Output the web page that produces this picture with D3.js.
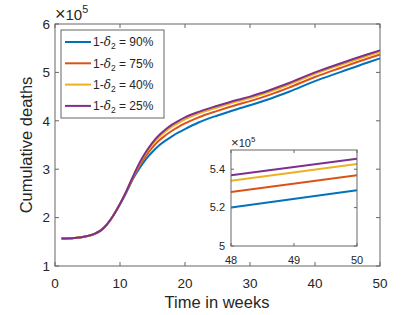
<!DOCTYPE html>
<html>
<head>
<meta charset="utf-8">
<script src="https://cdn.jsdelivr.net/npm/d3@7"></script>
<style>
  body { margin: 0; background: #fff; }
  text { font-family: "Liberation Sans", Arial, sans-serif; fill: #262626; }
</style>
</head>
<body>
<div id="chart"></div>
<script>
// data (deaths in units of 1e5)
const weeks = [1, 3, 5, 6, 7, 8, 9, 10, 11, 12, 13, 14, 15, 16, 17, 18, 19, 20, 22, 25, 28, 30, 33, 36, 40, 44, 48, 50];
const d90 = [1.57, 1.58, 1.62, 1.66, 1.73, 1.86, 2.05, 2.28, 2.53, 2.80, 3.02, 3.21, 3.36, 3.49, 3.59, 3.68, 3.76, 3.83, 3.96, 4.11, 4.24, 4.32, 4.45, 4.60, 4.82, 5.01, 5.20, 5.29];
const d75 = [1.57, 1.58, 1.62, 1.66, 1.73, 1.86, 2.05, 2.28, 2.54, 2.824, 3.073, 3.282, 3.451, 3.591, 3.70, 3.795, 3.875, 3.945, 4.066, 4.206, 4.331, 4.406, 4.536, 4.686, 4.906, 5.096, 5.281, 5.369];
const d40 = [1.57, 1.58, 1.62, 1.66, 1.73, 1.86, 2.05, 2.28, 2.547, 2.842, 3.111, 3.334, 3.518, 3.664, 3.781, 3.879, 3.959, 4.029, 4.143, 4.276, 4.398, 4.469, 4.599, 4.749, 4.969, 5.159, 5.34, 5.427];
const d25 = [1.57, 1.58, 1.62, 1.66, 1.73, 1.86, 2.05, 2.28, 2.55, 2.85, 3.13, 3.36, 3.55, 3.70, 3.82, 3.92, 4.00, 4.07, 4.18, 4.31, 4.43, 4.50, 4.63, 4.78, 5.00, 5.19, 5.369, 5.455];
const labels = ["90%", "75%", "40%", "25%"];
const colors = ["#0072BD", "#D95319", "#EDB120", "#7E2F8E"];
const xTicks = [0, 10, 20, 30, 40, 50];
const yTicks = [1, 2, 3, 4, 5, 6];
const insetXTicks = [48, 49, 50];
const insetYTicks = [5, 5.2, 5.4];

const series = [d90, d75, d40, d25].map((vals, i) => ({
    label: labels[i], color: colors[i],
    points: weeks.map((w, j) => [w, vals[j]])
}));

const width = 420, height = 315;
const svg = d3.select("#chart").append("svg")
    .attr("width", width).attr("height", height);

// draws a boxed matlab-style axes with inner ticks
function boxAxes(g, x, y, xt, yt, tickLen, fontSize, xPad, yPad) {
    const [x0, x1] = x.range();
    const [y0, y1] = y.range();
    g.append("rect")
        .attr("x", x0).attr("y", y1)
        .attr("width", x1 - x0).attr("height", y0 - y1)
        .attr("fill", "none").attr("stroke", "#666").attr("stroke-width", 1);
    xt.forEach(t => {
        g.append("line").attr("x1", x(t)).attr("x2", x(t))
            .attr("y1", y0).attr("y2", y0 - tickLen).attr("stroke", "#666");
        g.append("line").attr("x1", x(t)).attr("x2", x(t))
            .attr("y1", y1).attr("y2", y1 + tickLen).attr("stroke", "#666");
        g.append("text").attr("x", x(t)).attr("y", y0 + xPad)
            .attr("text-anchor", "middle").style("font-size", fontSize + "px").text(t);
    });
    yt.forEach(t => {
        g.append("line").attr("x1", x0).attr("x2", x0 + tickLen)
            .attr("y1", y(t)).attr("y2", y(t)).attr("stroke", "#666");
        g.append("line").attr("x1", x1).attr("x2", x1 - tickLen)
            .attr("y1", y(t)).attr("y2", y(t)).attr("stroke", "#666");
        g.append("text").attr("x", x0 - yPad).attr("y", y(t))
            .attr("dy", "0.35em").attr("text-anchor", "end")
            .style("font-size", fontSize + "px").text(t);
    });
}

// "x10^5" multiplier label
function exponent(g, xPos, yPos, fs) {
    const t = g.append("text").attr("x", xPos).attr("y", yPos).style("font-size", fs + "px");
    t.append("tspan").style("font-size", (fs * 1.2) + "px").text("\u00d7");
    t.append("tspan").text("10");
    t.append("tspan").style("font-size", (fs * 0.72) + "px").attr("dy", -fs * 0.45).text("5");
}

// main axes
const x = d3.scaleLinear().domain([0, 50]).range([55, 380]);
const y = d3.scaleLinear().domain([1, 6]).range([266, 24]);

const main = svg.append("g");
boxAxes(main, x, y, xTicks, yTicks, 4, 13.5, 22, 5);
exponent(main, 55, 20, 15);

main.append("text").attr("x", 217).attr("y", 308)
    .attr("text-anchor", "middle").style("font-size", "16.5px").text("Time in weeks");
main.append("text")
    .attr("transform", "translate(32,145) rotate(-90)")
    .attr("text-anchor", "middle").style("font-size", "16.5px").text("Cumulative deaths");

const line = d3.line().x(d => x(d[0])).y(d => y(d[1])).curve(d3.curveMonotoneX);
main.selectAll(".series").data(series).enter().append("path")
    .attr("d", d => line(d.points))
    .attr("fill", "none").attr("stroke", d => d.color).attr("stroke-width", 2);

// legend
const leg = svg.append("g");
leg.append("rect").attr("x", 61).attr("y", 30).attr("width", 103).attr("height", 88)
    .attr("fill", "#fff").attr("stroke", "#666");
series.forEach((s, i) => {
    const ly = 42 + i * 21.3;
    leg.append("line").attr("x1", 65).attr("x2", 91).attr("y1", ly).attr("y2", ly)
        .attr("stroke", s.color).attr("stroke-width", 2);
    const t = leg.append("text").attr("x", 93).attr("y", ly).attr("dy", "0.35em")
        .style("font-size", "12px");
    t.append("tspan").text("1-");
    t.append("tspan").attr("font-style", "italic").attr("font-family", "DejaVu Serif, serif").text("\u03b4");
    t.append("tspan").style("font-size", "8.5px").attr("dy", 3).text("2");
    t.append("tspan").attr("dy", -3).text(" = " + s.label);
});

// inset
const xi = d3.scaleLinear().domain([48, 50]).range([231, 357]);
const yi = d3.scaleLinear().domain([5, 5.5]).range([246, 150]);
const inset = svg.append("g");
inset.append("rect").attr("x", 231).attr("y", 150).attr("width", 126).attr("height", 96)
    .attr("fill", "#fff");
svg.append("clipPath").attr("id", "clipInset").append("rect")
    .attr("x", 231).attr("y", 150).attr("width", 126).attr("height", 96);
const lineI = d3.line().x(d => xi(d[0])).y(d => yi(d[1]));
inset.append("g").attr("clip-path", "url(#clipInset)")
    .selectAll("path").data(series).enter().append("path")
    .attr("d", d => lineI(d.points.filter(p => p[0] >= 44)))
    .attr("fill", "none").attr("stroke", d => d.color).attr("stroke-width", 2);
boxAxes(inset, xi, yi, insetXTicks, insetYTicks, 3, 11, 18, 6);
exponent(inset, 231, 147, 11);
</script>
</body>
</html>
